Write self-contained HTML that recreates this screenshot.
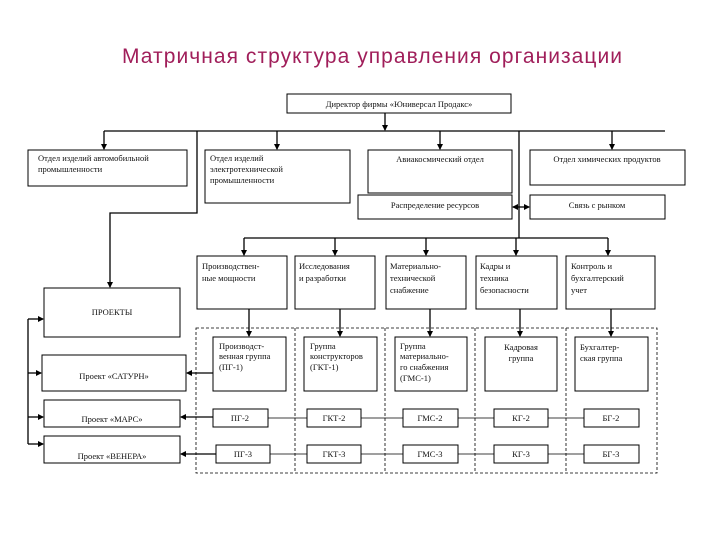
<!DOCTYPE html>
<html><head><meta charset="utf-8"><style>
html,body{margin:0;padding:0;background:#fff}
svg{display:block}
text{font-family:"Liberation Serif",serif;font-size:8.5px;fill:#111}
</style></head><body>
<svg width="720" height="540" viewBox="0 0 720 540" xmlns="http://www.w3.org/2000/svg">
<defs><marker id="a" markerWidth="6" markerHeight="6" refX="5" refY="3" orient="auto-start-reverse" markerUnits="userSpaceOnUse"><path d="M0,0 L6,3 L0,6 z" fill="#000"/></marker></defs>
<text x="372" y="63" text-anchor="middle" textLength="500" style="font-family:'Liberation Sans',sans-serif;font-size:21px;fill:#a01e5a">Матричная структура управления организации</text>
<g fill="#fff" stroke="#000" stroke-width="1">
<rect x="287" y="94" width="224" height="19"/>
<rect x="28" y="150" width="159" height="36"/>
<rect x="205" y="150" width="145" height="53"/>
<rect x="368" y="150" width="144" height="43"/>
<rect x="530" y="150" width="155" height="35"/>
<rect x="358" y="195" width="154" height="24"/>
<rect x="530" y="195" width="135" height="24"/>
<rect x="197" y="256" width="90" height="53"/>
<rect x="295" y="256" width="80" height="53"/>
<rect x="386" y="256" width="80" height="53"/>
<rect x="476" y="256" width="81" height="53"/>
<rect x="566" y="256" width="89" height="53"/>
<rect x="44" y="288" width="136" height="49"/>
<rect x="42" y="355" width="144" height="36"/>
<rect x="44" y="400" width="136" height="27"/>
<rect x="44" y="436" width="136" height="27"/>
<rect x="213" y="337" width="73" height="54"/>
<rect x="304" y="337" width="73" height="54"/>
<rect x="395" y="337" width="72" height="54"/>
<rect x="485" y="337" width="72" height="54"/>
<rect x="575" y="337" width="73" height="54"/>
<rect x="213" y="409" width="55" height="18"/>
<rect x="307" y="409" width="54" height="18"/>
<rect x="403" y="409" width="55" height="18"/>
<rect x="494" y="409" width="54" height="18"/>
<rect x="584" y="409" width="55" height="18"/>
<rect x="216" y="445" width="54" height="18"/>
<rect x="307" y="445" width="54" height="18"/>
<rect x="403" y="445" width="55" height="18"/>
<rect x="494" y="445" width="54" height="18"/>
<rect x="584" y="445" width="55" height="18"/>
</g>
<g fill="none" stroke="#000" stroke-width="0.8" stroke-dasharray="3,2">
<rect x="196" y="328" width="461" height="145"/>
<path d="M295,328V473M385,328V473M475,328V473M566,328V473"/>
</g>
<g fill="none" stroke="#000" stroke-width="1.3">
<path d="M385,113V130" marker-end="url(#a)"/>
<path d="M104,131H665"/>
<path d="M104,131V149" marker-end="url(#a)"/>
<path d="M277,131V149" marker-end="url(#a)"/>
<path d="M440,131V149" marker-end="url(#a)"/>
<path d="M612,131V149" marker-end="url(#a)"/>
<path d="M197,131V213H110V287" marker-end="url(#a)"/>
<path d="M519,131V238"/>
<path d="M244,238H608"/>
<path d="M244,238V255" marker-end="url(#a)"/>
<path d="M335,238V255" marker-end="url(#a)"/>
<path d="M426,238V255" marker-end="url(#a)"/>
<path d="M516,238V255" marker-end="url(#a)"/>
<path d="M608,238V255" marker-end="url(#a)"/>
<path d="M513,207H529" marker-end="url(#a)" marker-start="url(#a)"/>
<path d="M249,309V336" marker-end="url(#a)"/>
<path d="M340,309V336" marker-end="url(#a)"/>
<path d="M430,309V336" marker-end="url(#a)"/>
<path d="M520,309V336" marker-end="url(#a)"/>
<path d="M611,309V336" marker-end="url(#a)"/>
<path d="M28,319V444"/>
<path d="M28,319H43" marker-end="url(#a)"/>
<path d="M28,373H41" marker-end="url(#a)"/>
<path d="M28,417H43" marker-end="url(#a)"/>
<path d="M28,444H43" marker-end="url(#a)"/>
<path d="M213,373H187" marker-end="url(#a)"/>
<path d="M213,417H181" marker-end="url(#a)"/>
<path d="M216,454H181" marker-end="url(#a)"/>
</g>
<g stroke="#000" stroke-width="0.7">
<path d="M268,418H307M361,418H403M458,418H494M548,418H584"/>
<path d="M270,454H307M361,454H403M458,454H494M548,454H584"/>
</g>
<text x="399" y="107" text-anchor="middle">Директор фирмы «Юниверсал Продакс»</text>
<text x="38" y="161">Отдел изделий автомобильной</text><text x="38" y="172">промышленности</text>
<text x="210" y="161">Отдел изделий</text><text x="210" y="172">электротехнической</text><text x="210" y="183">промышленности</text>
<text x="440" y="162" text-anchor="middle">Авиакосмический отдел</text>
<text x="607" y="162" text-anchor="middle">Отдел химических продуктов</text>
<text x="435" y="208" text-anchor="middle">Распределение ресурсов</text>
<text x="597" y="208" text-anchor="middle">Связь с рынком</text>
<text x="202" y="269">Производствен-</text><text x="202" y="281">ные мощности</text>
<text x="299" y="269">Исследования</text><text x="299" y="281">и разработки</text>
<text x="390" y="269">Материально-</text><text x="390" y="281">технической</text><text x="390" y="293">снабжение</text>
<text x="480" y="269">Кадры и</text><text x="480" y="281">техника</text><text x="480" y="293">безопасности</text>
<text x="571" y="269">Контроль и</text><text x="571" y="281">бухгалтерский</text><text x="571" y="293">учет</text>
<text x="112" y="315" text-anchor="middle">ПРОЕКТЫ</text>
<text x="114" y="379" text-anchor="middle">Проект «САТУРН»</text>
<text x="112" y="422" text-anchor="middle">Проект «МАРС»</text>
<text x="112" y="459" text-anchor="middle">Проект «ВЕНЕРА»</text>
<text x="219" y="349">Производст-</text><text x="219" y="359">венная группа</text><text x="219" y="370">(ПГ-1)</text>
<text x="310" y="349">Группа</text><text x="310" y="359">конструкторов</text><text x="310" y="370">(ГКТ-1)</text>
<text x="400" y="349">Группа</text><text x="400" y="359">материально-</text><text x="400" y="370">го снабжения</text><text x="400" y="381">(ГМС-1)</text>
<text x="521" y="350" text-anchor="middle">Кадровая</text><text x="521" y="361" text-anchor="middle">группа</text>
<text x="580" y="350">Бухгалтер-</text><text x="580" y="361">ская группа</text>
<text x="240" y="421" text-anchor="middle">ПГ-2</text><text x="334" y="421" text-anchor="middle">ГКТ-2</text><text x="430" y="421" text-anchor="middle">ГМС-2</text><text x="521" y="421" text-anchor="middle">КГ-2</text><text x="611" y="421" text-anchor="middle">БГ-2</text>
<text x="243" y="457" text-anchor="middle">ПГ-3</text><text x="334" y="457" text-anchor="middle">ГКТ-3</text><text x="430" y="457" text-anchor="middle">ГМС-3</text><text x="521" y="457" text-anchor="middle">КГ-3</text><text x="611" y="457" text-anchor="middle">БГ-3</text>
</svg>
</body></html>
